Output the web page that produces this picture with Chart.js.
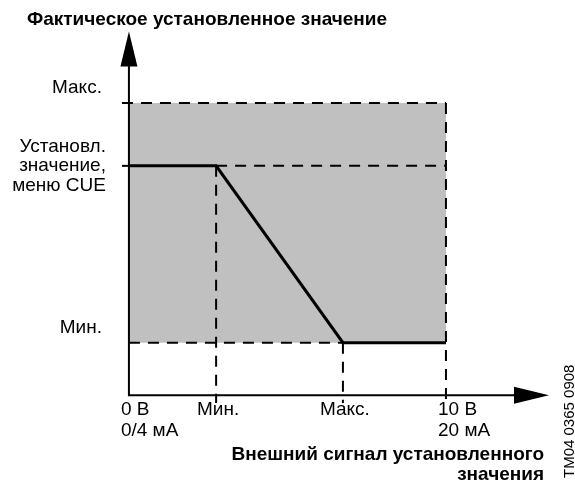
<!DOCTYPE html>
<html>
<head>
<meta charset="utf-8">
<script src="https://cdn.jsdelivr.net/npm/chart.js@4.4.0/dist/chart.umd.min.js"></script>
<style>
body { margin: 0; background: #fff; }
</style>
</head>
<body>
<canvas id="myChart" width="575" height="486"></canvas>
<script>
// x = external setpoint signal (0..10 V), y = actual setpoint (relative units)
var xTicks = [0, 2.75, 6.75, 10];
var xLabels = [['0 В', '0/4 мА'], ['Мин.'], ['Макс.'], ['10 В', '20 мА']];
var yTicks = [1.8, 7.85, 10];
var yLabels = [['Мин.'], ['Установл.', 'значение,', 'меню CUE'], ['Макс.']];
var curveX = [0, 2.75, 6.75, 10];
var curveY = [7.85, 7.85, 1.8, 1.8];
var axisEnd = [13.25, 12.45];
var yTitle = 'Фактическое установленное значение';
var xTitle = ['Внешний сигнал установленного', 'значения'];
var docCode = 'TM04 0365 0908';

var FONT = '"Liberation Sans", Arial, sans-serif';

function pts(xs, ys) {
    return xs.map(function (x, i) { return {x: x, y: ys[i]}; });
}

function dashed(data) {
    return {
        data: data, borderColor: '#000', borderWidth: 2, borderDash: [11, 8],
        pointRadius: 0, fill: false, clip: false, order: 2
    };
}

var yMin = yTicks[0], ySet = yTicks[1], yMax = yTicks[2];
var xLo = xTicks[1], xHi = xTicks[2], xEnd = xTicks[3];

// axes with arrow heads, drawn from the scales
var arrowAxes = {
    id: 'arrowAxes',
    afterDatasetsDraw: function (chart) {
        var xs = chart.scales.x, ys = chart.scales.y, ctx = chart.ctx;
        var x0 = xs.getPixelForValue(0), y0 = ys.getPixelForValue(0);
        var xt = xs.getPixelForValue(axisEnd[0]), yt = ys.getPixelForValue(axisEnd[1]);
        ctx.save();
        ctx.strokeStyle = '#000';
        ctx.fillStyle = '#000';
        ctx.lineWidth = 2;
        ctx.beginPath();
        ctx.moveTo(x0, yt + 30);
        ctx.lineTo(x0, y0);
        ctx.lineTo(xt - 30, y0);
        ctx.stroke();
        ctx.beginPath();
        ctx.moveTo(x0, yt);
        ctx.lineTo(x0 - 8.5, yt + 35);
        ctx.lineTo(x0 + 8.5, yt + 35);
        ctx.closePath();
        ctx.fill();
        ctx.beginPath();
        ctx.moveTo(xt, y0);
        ctx.lineTo(xt - 35, y0 - 8.5);
        ctx.lineTo(xt - 35, y0 + 8.5);
        ctx.closePath();
        ctx.fill();
        ctx.restore();
    },
    afterDraw: function (chart) {
        var xs = chart.scales.x, ys = chart.scales.y, ctx = chart.ctx;
        var x0 = xs.getPixelForValue(0), y0 = ys.getPixelForValue(0);
        ctx.save();
        ctx.fillStyle = '#000';
        ctx.font = '19px ' + FONT;
        ctx.textBaseline = 'middle';

        // y tick labels
        ctx.textAlign = 'right';
        yTicks.forEach(function (v, i) {
            var py = ys.getPixelForValue(v), lines = yLabels[i];
            if (lines.length == 1) {
                ctx.fillText(lines[0], x0 - 27, py - 15);
            } else {
                lines.forEach(function (t, j) {
                    ctx.fillText(t, x0 - 23, py + (j - 1) * 19.5);
                });
            }
        });

        // x tick labels
        xTicks.forEach(function (v, i) {
            var px = xs.getPixelForValue(v), lines = xLabels[i];
            if (lines.length == 1) {
                ctx.textAlign = 'center';
                px += 2;
            } else {
                ctx.textAlign = 'left';
                px -= 8;
            }
            lines.forEach(function (t, j) {
                ctx.fillText(t, px, y0 + 15 + j * 20.5);
            });
        });

        // axis titles
        ctx.font = 'bold 19px ' + FONT;
        ctx.textAlign = 'left';
        ctx.fillText(yTitle, 27, 20);
        ctx.textAlign = 'right';
        ctx.textBaseline = 'alphabetic';
        ctx.fillText(xTitle[0], 544, 460);
        ctx.fillText(xTitle[1], 544, 480);

        // drawing number, vertical
        ctx.font = '15px ' + FONT;
        ctx.translate(574, 478);
        ctx.rotate(-Math.PI / 2);
        ctx.textAlign = 'left';
        ctx.fillText(docCode, 0, 0);
        ctx.restore();
    }
};

var ctx = document.getElementById('myChart').getContext('2d');
var chart = new Chart(ctx, {
    type: 'line',
    data: {
        datasets: [
            {
                // the characteristic
                data: pts(curveX, curveY),
                borderColor: '#000', borderWidth: 3, pointRadius: 0,
                fill: false, clip: false, order: 1
            },
            dashed(pts([-0.22, xEnd], [yMax, yMax])),
            dashed(pts([xLo, xEnd], [ySet, ySet])),
            dashed(pts([0, xHi], [yMin, yMin])),
            dashed(pts([xLo, xLo], [ySet, -0.27])),
            dashed(pts([xHi, xHi], [yMin, -0.27])),
            dashed(pts([xEnd, xEnd], [yMax, -0.27])),
            {
                data: pts([-0.22, 0], [ySet, ySet]),
                borderColor: '#000', borderWidth: 2, pointRadius: 0,
                fill: false, clip: false, order: 2
            },
            {
                // allowed range, grey
                data: pts([0, xEnd], [yMax, yMax]),
                borderWidth: 0, pointRadius: 0,
                backgroundColor: '#c0c0c0',
                fill: {value: yMin}, order: 3
            }
        ]
    },
    options: {
        responsive: false,
        animation: false,
        devicePixelRatio: 1,
        layout: {padding: {left: 121, right: 26, top: 30, bottom: 82}},
        plugins: {legend: {display: false}, tooltip: {enabled: false}},
        scales: {
            x: {type: 'linear', min: -0.25, max: 13.25, display: false},
            y: {type: 'linear', min: -0.3, max: 12.5, display: false}
        }
    },
    plugins: [arrowAxes]
});
</script>
</body>
</html>
